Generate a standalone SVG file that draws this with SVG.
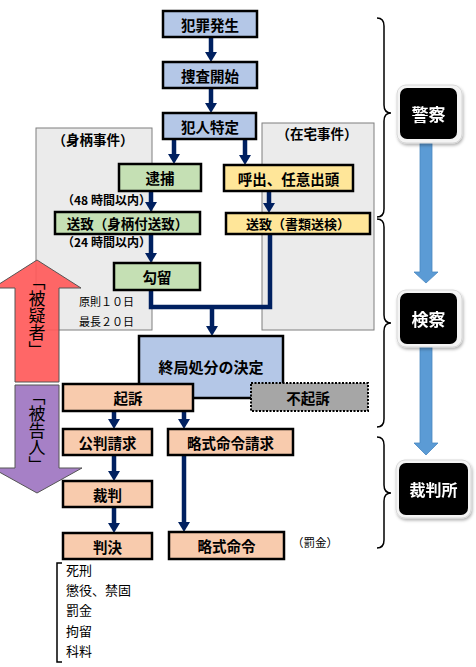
<svg xmlns="http://www.w3.org/2000/svg" width="476" height="667" viewBox="0 0 476 667">
<defs>
<style>
text{font-family:"Noto Sans CJK JP","Noto Sans CJK SC",sans-serif;fill:#000}
.b{stroke:#000;stroke-width:2.5}
.blue{fill:#b4c7e7}
.green{fill:#c5e0b4}
.yellow{fill:#ffe699}
.peach{fill:#f8cbad}
.lbl{font-size:14.5px;font-weight:bold;text-anchor:middle;dominant-baseline:central}
.sm{font-size:12px;font-weight:bold}
.reg{font-size:11px}
.lst{font-size:13px}
.con{stroke:#002060;stroke-width:4.5;fill:none}
.case{fill:#ebebeb;stroke:#7f7f7f;stroke-width:1}
.brace{fill:none;stroke:#000;stroke-width:1.5}
.org{font-size:17px;font-weight:bold;fill:#fff;text-anchor:middle;dominant-baseline:central}
.vt{font-size:17px;writing-mode:vertical-rl;text-anchor:middle}
</style>
<marker id="ah" viewBox="0 0 10 12" markerWidth="10" markerHeight="12" refX="0" refY="6" orient="auto" markerUnits="userSpaceOnUse">
<path d="M0,0 L10,6 L0,12 z" fill="#002060"/>
</marker>
<filter id="sh" x="-20%" y="-20%" width="140%" height="140%">
<feDropShadow dx="1" dy="2" stdDeviation="1.5" flood-color="#000" flood-opacity="0.3"/>
</filter>
</defs>

<!-- case regions -->
<g id="migara">
<rect class="case" x="36" y="128" width="116" height="202"/>
<text x="93" y="145" text-anchor="middle" style="font-size:13.5px;font-weight:bold">（身柄事件）</text>
<text class="reg" x="79" y="306">原則１０日</text>
<text class="reg" x="79" y="326">最長２０日</text>
</g>
<g id="zaitaku">
<rect class="case" x="262" y="123" width="112" height="207"/>
<text x="317" y="139" text-anchor="middle" style="font-size:13.5px;font-weight:bold">（在宅事件）</text>
</g>

<!-- big status arrows -->
<g id="higisha">
<polygon points="37,260 81,288 59,288 59,382 15,382 15,288 -7,288" fill="#ff5a5a" fill-opacity="0.92" stroke="#555" stroke-width="1"/>
<text class="vt" x="37" y="316">「被疑者」</text>
</g>
<g id="hikokunin">
<polygon points="15,385 59,385 59,468 82,468 37,493 -8,468 15,468" fill="#a680c6" stroke="#555" stroke-width="1"/>
<text class="vt" x="37" y="431">「被告人」</text>
</g>

<!-- connectors -->
<g id="connectors">
<line class="con" x1="211" y1="37" x2="211" y2="52" marker-end="url(#ah)"/>
<line class="con" x1="211" y1="88" x2="211" y2="103" marker-end="url(#ah)"/>
<line class="con" x1="174" y1="139" x2="174" y2="154" marker-end="url(#ah)"/>
<line class="con" x1="245" y1="139" x2="245" y2="155" marker-end="url(#ah)"/>
<line class="con" x1="151" y1="191" x2="151" y2="202" marker-end="url(#ah)"/>
<line class="con" x1="269" y1="191" x2="269" y2="203" marker-end="url(#ah)"/>
<line class="con" x1="151" y1="234" x2="151" y2="253" marker-end="url(#ah)"/>
<polyline class="con" points="151,290 151,307 270,307 270,234"/>
<line class="con" x1="212" y1="307" x2="212" y2="326" marker-end="url(#ah)"/>
<line class="con" x1="114" y1="411" x2="114" y2="419" marker-end="url(#ah)"/>
<line class="con" x1="184" y1="411" x2="184" y2="419" marker-end="url(#ah)"/>
<line class="con" x1="114" y1="455" x2="114" y2="471" marker-end="url(#ah)"/>
<line class="con" x1="114" y1="507" x2="114" y2="523" marker-end="url(#ah)"/>
<line class="con" x1="184" y1="455" x2="184" y2="522" marker-end="url(#ah)"/>
</g>

<!-- flow nodes -->
<g id="hanzai"><rect class="b blue" x="163" y="11" width="94" height="26"/><text class="lbl" x="210" y="24">犯罪発生</text></g>
<g id="sousa"><rect class="b blue" x="163" y="62" width="94" height="26"/><text class="lbl" x="210" y="75">捜査開始</text></g>
<g id="hannin"><rect class="b blue" x="163" y="113" width="93" height="26"/><text class="lbl" x="210" y="126">犯人特定</text></g>
<g id="taiho"><rect class="b green" x="119" y="164" width="82" height="27"/><text class="lbl" x="160" y="177.5">逮捕</text></g>
<g id="yobidashi"><rect class="b yellow" x="224" y="165" width="129" height="26"/><text class="lbl" x="288.5" y="178">呼出、任意出頭</text></g>
<text class="sm" x="62" y="205">（48 時間以内）</text>
<g id="souchi1"><rect class="b green" x="55" y="212" width="145" height="22"/><text class="lbl" x="127.5" y="223" style="font-size:13.5px">送致（身柄付送致）</text></g>
<g id="souchi2"><rect class="b yellow" x="226" y="213" width="144" height="21"/><text class="lbl" x="298" y="223.5" style="font-size:13px">送致（書類送検）</text></g>
<text class="sm" x="62" y="247">（24 時間以内）</text>
<g id="koryu"><rect class="b green" x="114" y="263" width="86" height="27"/><text class="lbl" x="157" y="276.5">勾留</text></g>
<g id="shukyoku"><rect class="b blue" x="139" y="336" width="144" height="62"/><text class="lbl" x="211" y="366" style="font-size:15px">終局処分の決定</text></g>
<g id="kiso"><rect class="b peach" x="63" y="384" width="130" height="27"/><text class="lbl" x="128" y="397.5">起訴</text></g>
<g id="fukiso"><rect x="251" y="383" width="117" height="28" fill="#a6a6a6" stroke="#000" stroke-width="2" stroke-dasharray="2,1.5"/><text class="lbl" x="308" y="397">不起訴</text></g>
<g id="kouhan"><rect class="b peach" x="63" y="429" width="89" height="26"/><text class="lbl" x="107.5" y="442">公判請求</text></g>
<g id="ryakushikiseikyu"><rect class="b peach" x="168" y="429" width="125" height="26"/><text class="lbl" x="230.5" y="442">略式命令請求</text></g>
<g id="saiban"><rect class="b peach" x="63" y="481" width="89" height="26"/><text class="lbl" x="107.5" y="494">裁判</text></g>
<g id="hanketsu"><rect class="b peach" x="63" y="533" width="89" height="26"/><text class="lbl" x="107.5" y="546">判決</text></g>
<g id="ryakushiki"><rect class="b peach" x="169" y="532" width="115" height="27"/><text class="lbl" x="226.5" y="545.5">略式命令</text></g>
<text class="reg" x="292" y="547" style="font-size:11.5px">（罰金）</text>

<!-- sentences list -->
<g id="sentences">
<path class="brace" d="M62,563 L57,563 L57,662 L62,662"/>
<text class="lst" x="66" y="575">死刑</text>
<text class="lst" x="66" y="595">懲役、禁固</text>
<text class="lst" x="66" y="615">罰金</text>
<text class="lst" x="66" y="636">拘留</text>
<text class="lst" x="66" y="656">科料</text>
</g>

<!-- braces -->
<g id="braces">
<path class="brace" d="M377,18 Q384,18 384,26 L384,105 Q384,113 391,113 Q384,113 384,121 L384,209 Q384,217 377,217"/>
<path class="brace" d="M377,219 Q384,219 384,227 L384,315 Q384,323 391,323 Q384,323 384,331 L384,419 Q384,427 377,427"/>
<path class="brace" d="M377,437 Q384,437 384,445 L384,485 Q384,493 391,493 Q384,493 384,501 L384,540 Q384,548 377,548"/>
</g>

<!-- blue stage arrows -->
<g id="stage-arrows">
<polygon points="420,143 432,143 432,272 438,272 426,283 414,272 420,272" fill="#5b9bd5" stroke="#4a88c0" stroke-width="0.8"/>
<polygon points="420,347 432,347 432,443 438,443 426,455 414,443 420,443" fill="#5b9bd5" stroke="#4a88c0" stroke-width="0.8"/>
</g>

<!-- organisations -->
<g id="keisatsu" filter="url(#sh)">
<rect x="397" y="85" width="65" height="58" rx="9" fill="#f4f4f4" stroke="#d8d8d8"/>
<rect x="400" y="88" width="57" height="51" rx="7" fill="#000"/>
<text class="org" x="428.5" y="113">警察</text>
</g>
<g id="kensatsu" filter="url(#sh)">
<rect x="397" y="290" width="65" height="57" rx="9" fill="#f4f4f4" stroke="#d8d8d8"/>
<rect x="400" y="293" width="57" height="51" rx="7" fill="#000"/>
<text class="org" x="428.5" y="318">検察</text>
</g>
<g id="saibansho" filter="url(#sh)">
<rect x="396" y="460" width="75" height="58" rx="9" fill="#f4f4f4" stroke="#d8d8d8"/>
<rect x="399" y="463" width="69" height="52" rx="7" fill="#000"/>
<text class="org" x="433.5" y="489" style="font-size:16px">裁判所</text>
</g>
</svg>
